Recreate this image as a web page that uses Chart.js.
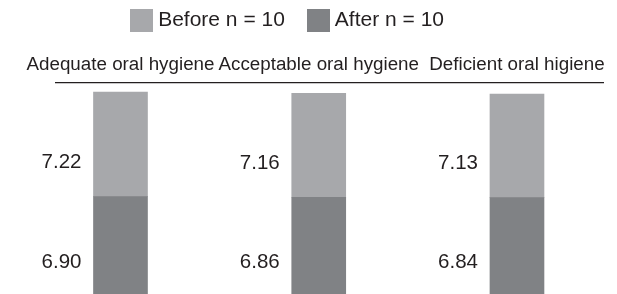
<!DOCTYPE html>
<html><head><meta charset="utf-8">
<script src="https://cdn.jsdelivr.net/npm/chart.js@4.4.1/dist/chart.umd.min.js"></script>
<style>html,body{margin:0;padding:0;background:#fff;} #wrap{width:617px;height:294px;position:relative;}</style>
</head><body><div id="wrap"><canvas id="c"></canvas></div>
<script>
// ---- data ----
const categories = ['Adequate oral hygiene', 'Acceptable oral hygiene', 'Deficient oral higiene'];
const beforeValues = [7.22, 7.16, 7.13];
const afterValues = [6.90, 6.86, 6.84];
const beforeLabel = 'Before n = 10';
const afterLabel = 'After n = 10';

// ---- styles ----
const FONT = "'Liberation Sans', Arial, Helvetica, sans-serif";
const TEXT = '#231f20';
const LIGHT = '#a7a8ab';
const DARK = '#808285';
Chart.defaults.font.family = FONT;
Chart.defaults.color = TEXT;

function swatch(color) {
  const c = document.createElement('canvas');
  c.width = 23; c.height = 23;
  const g = c.getContext('2d');
  g.fillStyle = color; g.fillRect(0, 0, 23, 23);
  return c;
}

const legendTrailing = {[beforeLabel]: 3, [afterLabel]: 4};

const valueLabels = {
  id: 'valueLabels',
  afterDatasetsDraw(chart) {
    const ctx = chart.ctx;
    ctx.save();
    ctx.font = '20.5px ' + FONT;
    ctx.fillStyle = TEXT;
    ctx.textAlign = 'right';
    ctx.textBaseline = 'middle';
    chart.data.datasets.forEach((ds, di) => {
      const meta = chart.getDatasetMeta(di);
      meta.data.forEach((bar, i) => {
        const p = bar.getProps(['x', 'base', 'width'], true);
        ctx.fillText(ds.data[i].y.toFixed(2), p.x - p.width / 2 - 12, p.base - 34);
      });
    });
    ctx.restore();
  }
};

new Chart(document.getElementById('c'), {
  type: 'bar',
  data: {
    datasets: [
      {label: afterLabel, data: afterValues.map((v, i) => ({x: i, y: v})), backgroundColor: DARK, barThickness: 54, borderWidth: 0},
      {label: beforeLabel, data: beforeValues.map((v, i) => ({x: i, y: v})), backgroundColor: LIGHT, barThickness: 54, borderWidth: 0}
    ]
  },
  options: {
    responsive: true,
    maintainAspectRatio: false,
    animation: false,
    layout: {padding: {left: 0, right: 14, top: 0, bottom: 0}},
    plugins: {
      tooltip: {enabled: false},
      legend: {
        position: 'top',
        labels: {
          usePointStyle: true,
          pointStyleWidth: 12,
          boxHeight: 21,
          padding: 10,
          color: TEXT,
          font: {family: FONT, size: 21},
          generateLabels(chart) {
            const items = Chart.defaults.plugins.legend.labels.generateLabels(chart);
            items.forEach(it => {
              const ds = chart.data.datasets[it.datasetIndex];
              it.pointStyle = swatch(ds.backgroundColor);
              it.text = ds.label + ' '.repeat(legendTrailing[ds.label] || 0);
              it.lineWidth = 0;
            });
            return items.reverse();
          }
        }
      }
    },
    scales: {
      x: {
        type: 'linear',
        position: 'top',
        stacked: true,
        offset: false,
        min: -0.3253,
        max: 2.4339,
        grid: {display: false, drawTicks: false, offset: false},
        border: {display: true, color: TEXT, width: 1.3},
        title: {display: true, text: '', padding: 0, font: {size: 5, lineHeight: '6px'}},
        afterBuildTicks: s => { s.ticks = categories.map((_, i) => ({value: i})); },
        ticks: {
          color: TEXT,
          padding: 6,
          maxRotation: 0,
          autoSkip: false,
          font: {family: FONT, size: 18.8, lineHeight: '24px'},
          callback: v => categories[v] !== undefined ? categories[v] : ''
        }
      },
      y: {
        stacked: true,
        min: 0.19,
        max: 14.74,
        display: true,
        grid: {display: false, drawTicks: false},
        border: {display: false},
        ticks: {display: false},
        afterFit: s => { s.width = 56; }
      }
    }
  },
  plugins: [valueLabels]
});
</script>
</body></html>
